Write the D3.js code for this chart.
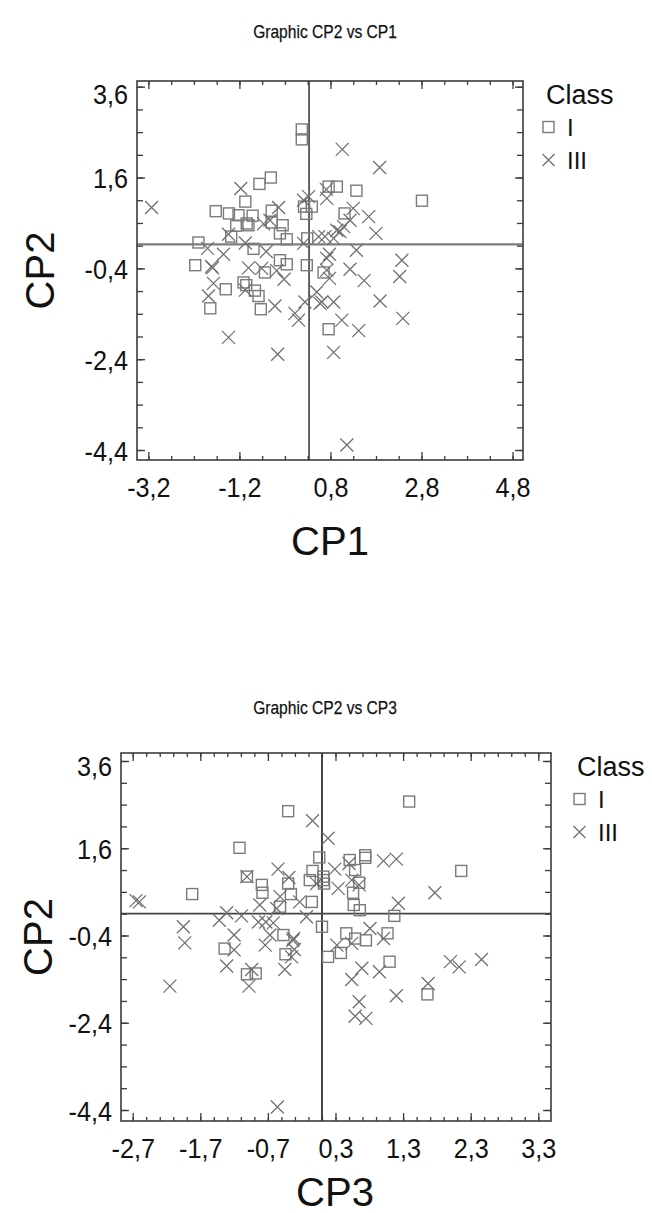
<!DOCTYPE html>
<html><head><meta charset="utf-8">
<script src="https://cdn.jsdelivr.net/npm/d3@7"></script>
<style>body{margin:0;background:#fff} svg{display:block}</style>
</head><body>
<svg id="c" width="652" height="1213"></svg>
<script>
// ---------- data ----------
const classLabels = ["I", "III"];
const legendTitle = "Class";

// Panel 1 : CP1 (x) vs CP2 (y)
const p1Title = "Graphic CP2 vs CP1";
const p1XLabel = "CP1", p1YLabel = "CP2";
const p1ClassI = [
 [0.17,2.66],[0.17,2.44],[-0.76,1.46],[-0.51,1.60],[-1.07,1.07],[-1.72,0.86],[-1.43,0.81],
 [-1.22,0.77],[-0.91,0.76],[-1.27,0.54],[-1.04,0.59],[-1.00,0.55],[-0.49,0.87],[-0.49,0.61],
 [-0.25,0.55],[-0.31,0.37],[-0.16,0.24],[-1.38,0.30],[-2.10,0.17],[-0.89,0.03],[0.22,0.96],
 [0.39,0.96],[0.27,0.80],[0.29,0.26],[-2.17,-0.33],[-0.31,-0.22],[-0.16,-0.31],[0.28,-0.33],
 [0.94,1.40],[0.76,1.40],[1.37,1.31],[2.81,1.09],[1.11,0.81],[-0.64,-0.49],[0.65,-0.49],
 [-1.50,-0.86],[-1.11,-0.71],[-1.05,-0.77],[-0.86,-0.89],[-0.78,-1.01],[-0.73,-1.30],
 [-1.84,-1.28],[0.76,-1.74]
];
const p1ClassIII = [
 [-3.13,0.94],[-1.17,1.36],[-0.34,0.94],[0.21,1.10],[0.32,1.18],[0.71,1.34],[0.72,1.14],
 [-0.53,0.66],[-0.67,0.58],[-1.44,0.35],[-1.07,0.16],[-1.90,0.04],[-1.55,-0.09],[-0.61,-0.03],
 [0.21,0.15],[0.54,0.30],[0.68,0.30],[0.72,-0.18],[-1.81,-0.36],[1.06,2.22],[1.88,1.82],
 [1.30,0.92],[1.64,0.74],[1.23,0.66],[1.09,0.52],[1.01,0.41],[0.94,0.44],[1.80,0.37],
 [0.87,0.26],[0.78,-0.09],[1.37,0.00],[2.37,-0.22],[-1.79,-0.39],[-1.00,-0.39],[-0.71,-0.40],
 [-0.38,-0.45],[-0.22,-0.64],[-1.77,-0.73],[-1.88,-1.01],[-1.07,-0.88],[-0.42,-1.23],
 [0.02,-1.39],[0.10,-1.54],[0.24,-1.14],[0.50,-0.92],[0.61,-1.14],[-1.44,-1.92],[-0.36,-2.29],
 [0.87,-2.25],[1.23,-0.42],[1.54,-0.67],[2.32,-0.58],[0.78,-0.62],[0.57,-1.17],[0.87,-1.14],
 [1.89,-1.12],[2.39,-1.50],[1.05,-1.54],[1.42,-1.77],[1.16,-4.29],[0.72,-0.44]
];
const p1XTicks = [-3.2, -1.2, 0.8, 2.8, 4.8];
const p1YTicks = [3.6, 1.6, -0.4, -2.4, -4.4];
const p1Ref = [0.33, 0.13];   // vertical line at CP1, horizontal line at CP2

// Panel 2 : CP3 (x) vs CP2 (y)
const p2Title = "Graphic CP2 vs CP3";
const p2XLabel = "CP3", p2YLabel = "CP2";
const p2ClassI = [
 [-0.40,2.45],[-1.12,1.61],[0.06,1.39],[-0.04,1.08],[-0.08,0.87],[0.12,0.87],[0.13,0.79],
 [-1.01,0.95],[-0.79,0.76],[-0.78,0.58],[-0.40,0.79],[-0.36,0.55],[-1.82,0.55],[-0.05,0.37],
 [-0.52,0.26],[0.10,-0.20],[-0.47,-0.39],[-1.34,-0.70],[-1.01,-1.29],[-0.88,-1.27],[-0.44,-0.83],
 [1.39,2.67],[0.51,1.33],[0.74,1.44],[0.74,1.38],[0.59,1.10],[0.65,0.81],[0.56,0.58],
 [0.57,0.30],[0.66,0.18],[2.16,1.08],[1.17,0.05],[0.46,-0.35],[0.59,-0.47],[0.75,-0.51],
 [1.07,-0.35],[0.19,-0.89],[0.38,-0.80],[1.10,-1.00],[1.66,-1.75],[0.12,0.95]
];
const p2ClassIII = [
 [-0.04,2.23],[0.19,1.83],[-1.01,0.95],[-0.55,1.12],[-0.39,0.93],[-2.65,0.40],[-2.60,0.37],
 [-0.82,0.30],[-0.52,0.49],[-0.57,0.22],[-0.23,0.37],[0.02,0.79],[-0.13,0.03],[-1.31,0.12],
 [-1.42,-0.05],[-1.09,0.05],[-0.84,-0.09],[-0.73,-0.09],[-0.62,-0.11],[-1.95,-0.20],[-1.93,-0.57],
 [-1.20,-0.39],[-0.67,-0.39],[-0.32,-0.47],[-0.74,-0.62],[-1.20,-0.73],[-1.31,-1.10],[-0.94,-1.18],
 [-0.98,-1.56],[-0.33,-0.51],[-0.31,-0.72],[-0.35,-0.89],[-0.45,-1.18],[-2.15,-1.56],[-0.56,-4.33],
 [0.50,1.25],[0.29,1.12],[1.01,1.31],[1.20,1.35],[0.34,0.68],[0.54,0.87],[0.65,0.76],[1.77,0.58],
 [1.23,0.34],[0.81,-0.24],[1.01,-0.47],[0.32,-0.62],[0.54,-0.58],[0.69,-1.15],[0.54,-1.41],
 [0.95,-1.23],[0.65,-1.92],[0.59,-2.25],[0.75,-2.30],[1.20,-1.78],[1.67,-1.50],[2.00,-1.00],
 [2.13,-1.12],[2.46,-0.95]
];
const p2XTicks = [-2.7, -1.7, -0.7, 0.3, 1.3, 2.3, 3.3];
const p2YTicks = [3.6, 1.6, -0.4, -2.4, -4.4];
const p2Ref = [0.10, 0.10];

// ---------- drawing ----------
const svg = d3.select("#c");
const FONT = "'Liberation Sans', Arial, sans-serif";
const fmt = d => d3.format(".1f")(d).replace("\u2212", "-").replace(".", ",");
const frameColor = "#3c3c3c";
const markColor = "#7a7a7a";

function minorTicks(scale, anchor, step) {
  const [a, b] = scale.domain();
  const lo = Math.ceil((a - anchor) / step - 1e-9), hi = Math.floor((b - anchor) / step + 1e-9);
  return d3.range(lo, hi + 1).map(k => +(anchor + k * step).toFixed(4));
}

function condense(sel, f) {
  sel.each(function () {
    const w = this.getComputedTextLength();
    d3.select(this).attr("textLength", w * f).attr("lengthAdjust", "spacingAndGlyphs");
  });
}

function drawPanel(cfg) {
  const x = d3.scaleLinear().domain(cfg.xDomain).range([cfg.box.l, cfg.box.r]);
  const y = d3.scaleLinear().domain(cfg.yDomain).range([cfg.box.b, cfg.box.t]);
  const g = svg.append("g");

  // title
  g.append("text").attr("x", cfg.titleX).attr("y", cfg.titleY)
    .attr("text-anchor", "middle").attr("font-family", FONT).attr("font-size", 19)
    .attr("fill", "#111").attr("stroke", "#111").attr("stroke-width", 0.25)
    .text(cfg.title).call(condense, 0.82);

  // reference lines
  g.append("line").attr("x1", x(cfg.ref[0])).attr("x2", x(cfg.ref[0]))
    .attr("y1", cfg.box.t).attr("y2", cfg.box.b)
    .attr("stroke", cfg.vColor).attr("stroke-width", cfg.vWidth);
  g.append("line").attr("x1", cfg.box.l).attr("x2", cfg.box.r)
    .attr("y1", y(cfg.ref[1])).attr("y2", y(cfg.ref[1]))
    .attr("stroke", cfg.hColor).attr("stroke-width", cfg.hWidth);

  // minor ticks all four sides (inside)
  const xm = minorTicks(x, cfg.xTicks[0], cfg.xMinor);
  const ym = minorTicks(y, cfg.yTicks[0], cfg.yMinor);
  const styleAxis = sel => {
    sel.select(".domain").remove();
    sel.selectAll("line").attr("stroke", frameColor).attr("stroke-width", 1.3);
    sel.attr("font-family", FONT);
  };
  g.append("g").attr("transform", `translate(0,${cfg.box.b})`)
    .call(d3.axisBottom(x).tickValues(xm).tickSize(-4).tickFormat("")).call(styleAxis);
  g.append("g").attr("transform", `translate(0,${cfg.box.t})`)
    .call(d3.axisTop(x).tickValues(xm).tickSize(-4).tickFormat("")).call(styleAxis);
  g.append("g").attr("transform", `translate(${cfg.box.l},0)`)
    .call(d3.axisLeft(y).tickValues(ym).tickSize(-6).tickFormat("")).call(styleAxis);
  g.append("g").attr("transform", `translate(${cfg.box.r},0)`)
    .call(d3.axisRight(y).tickValues(ym).tickSize(-6).tickFormat("")).call(styleAxis);

  // major ticks with labels
  const xa = g.append("g").attr("transform", `translate(0,${cfg.box.b})`)
    .call(d3.axisBottom(x).tickValues(cfg.xTicks).tickSize(-8).tickPadding(cfg.xPad).tickFormat(fmt))
    .call(styleAxis);
  xa.selectAll("text").attr("font-size", cfg.tickFont).attr("fill", "#111").call(condense, 0.9);
  g.append("g").attr("transform", `translate(0,${cfg.box.t})`)
    .call(d3.axisTop(x).tickValues(cfg.xTicks).tickSize(-8).tickFormat("")).call(styleAxis);
  const ya = g.append("g").attr("transform", `translate(${cfg.box.l},0)`)
    .call(d3.axisLeft(y).tickValues(cfg.yTicks).tickSize(-8).tickPadding(9).tickFormat(fmt))
    .call(styleAxis);
  ya.selectAll("text").attr("font-size", cfg.tickFont).attr("fill", "#111").attr("dy", "0.36em")
    .call(condense, 0.9);
  // keep the top label inside the frame's vertical extent
  const yMax = d3.max(cfg.yTicks);
  ya.selectAll(".tick").filter(d => d === yMax).select("text")
    .attr("y", Math.max(0, cfg.box.t + 12 - y(yMax)));
  g.append("g").attr("transform", `translate(${cfg.box.r},0)`)
    .call(d3.axisRight(y).tickValues(cfg.yTicks).tickSize(-8).tickFormat("")).call(styleAxis);

  // frame
  g.append("rect").attr("x", cfg.box.l).attr("y", cfg.box.t)
    .attr("width", cfg.box.r - cfg.box.l).attr("height", cfg.box.b - cfg.box.t)
    .attr("fill", "none").attr("stroke", frameColor).attr("stroke-width", 1.6);

  // axis titles
  g.append("text").attr("x", cfg.xLabelX).attr("y", cfg.xLabelY).attr("text-anchor", "middle")
    .attr("font-family", FONT).attr("font-size", 40).attr("fill", "#111").text(cfg.xLabel);
  g.append("text").attr("transform", `translate(${cfg.yLabelX},${(cfg.box.t + cfg.box.b) / 2}) rotate(-90)`)
    .attr("text-anchor", "middle").attr("font-family", FONT).attr("font-size", 40)
    .attr("fill", "#111").text(cfg.yLabel);

  // points
  const pts = g.append("g");
  pts.selectAll("rect.sq").data(cfg.classI).join("rect").attr("class", "sq")
    .attr("x", d => x(d[0]) - 5.5).attr("y", d => y(d[1]) - 5.5)
    .attr("width", 11).attr("height", 11)
    .attr("fill", "none").attr("stroke", markColor).attr("stroke-width", 1.4);
  pts.selectAll("path.cr").data(cfg.classIII).join("path").attr("class", "cr")
    .attr("transform", d => `translate(${x(d[0])},${y(d[1])})`)
    .attr("d", "M-6.5,-6.5L6.5,6.5M-6.5,6.5L6.5,-6.5")
    .attr("fill", "none").attr("stroke", "#6e6e6e").attr("stroke-width", 1.25);

  // legend
  const lg = g.append("g").attr("transform", `translate(${cfg.legX},${cfg.legY})`);
  lg.append("text").attr("x", 0).attr("y", 0).attr("dy", "0.36em")
    .attr("font-family", FONT).attr("font-size", 27).attr("fill", "#111").text(legendTitle);
  lg.append("rect").attr("x", -3).attr("y", 33 - 5.5).attr("width", 11).attr("height", 11)
    .attr("fill", "none").attr("stroke", markColor).attr("stroke-width", 1.4);
  lg.append("path").attr("transform", `translate(2.5,66)`).attr("d", "M-6,-6L6,6M-6,6L6,-6")
    .attr("fill", "none").attr("stroke", "#6e6e6e").attr("stroke-width", 1.3);
  classLabels.forEach((c, i) => {
    lg.append("text").attr("x", 21).attr("y", 33 + 33 * i).attr("dy", "0.36em")
      .attr("font-family", FONT).attr("font-size", 24).attr("fill", "#111").text(c);
  });
}

drawPanel({
  title: p1Title, titleX: 325, titleY: 38,
  box: {l: 137, t: 81, r: 523, b: 460},
  xDomain: [-3.45, 5.03], yDomain: [-4.62, 3.726],
  xTicks: p1XTicks, yTicks: p1YTicks, xMinor: 0.5, yMinor: 0.5,
  ref: p1Ref, vColor: "#111", vWidth: 1.3, hColor: "#7d7d7d", hWidth: 2.2,
  tickFont: 28, xPad: 17,
  xLabel: p1XLabel, yLabel: p1YLabel, xLabelX: 330, xLabelY: 555, yLabelX: 54,
  classI: p1ClassI, classIII: p1ClassIII,
  legX: 546, legY: 94
});

drawPanel({
  title: p2Title, titleX: 325, titleY: 714,
  box: {l: 121, t: 753, r: 551, b: 1121},
  xDomain: [-2.873, 3.488], yDomain: [-4.652, 3.783],
  xTicks: p2XTicks, yTicks: p2YTicks, xMinor: 0.2, yMinor: 0.5,
  ref: p2Ref, vColor: "#333", vWidth: 1.8, hColor: "#444", hWidth: 1.8,
  tickFont: 28, xPad: 17,
  xLabel: p2XLabel, yLabel: p2YLabel, xLabelX: 335, xLabelY: 1206, yLabelX: 52,
  classI: p2ClassI, classIII: p2ClassIII,
  legX: 577, legY: 766
});
</script>
</body></html>
